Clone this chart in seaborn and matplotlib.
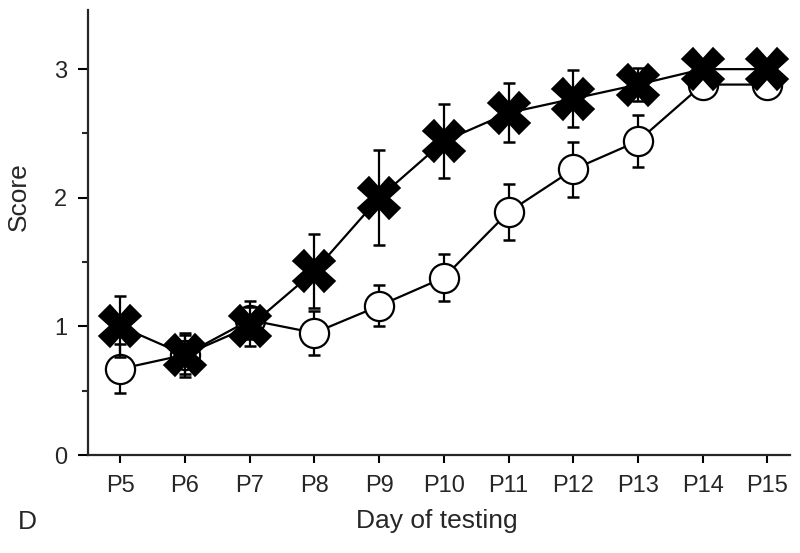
############################# Data Set-up ################################

# Imports
import numpy as np
import pandas as pd
import matplotlib
matplotlib.use("Agg")
import matplotlib.pyplot as plt
import seaborn as sns
from matplotlib.ticker import MultipleLocator

# Day labels
days = ["P5", "P6", "P7", "P8", "P9", "P10", "P11", "P12", "P13", "P14", "P15"]

# Open circle group (mean and SEM)
circle_mean = [0.67, 0.78, 1.05, 0.95, 1.16, 1.38, 1.89, 2.22, 2.44, 2.88, 2.88]
circle_sem = [0.19, 0.17, 0.15, 0.17, 0.16, 0.18, 0.22, 0.21, 0.20, 0.10, 0.10]

# Cross group (mean and SEM)
cross_mean = [1.00, 0.78, 1.00, 1.43, 2.00, 2.44, 2.66, 2.77, 2.88, 3.00, 3.00]
cross_sem = [0.24, 0.15, 0.15, 0.29, 0.37, 0.29, 0.23, 0.22, 0.13, 0.0, 0.0]

# Build long table for seaborn
df = pd.DataFrame({
    "day": days * 2,
    "pos": list(range(len(days))) * 2,
    "score": circle_mean + cross_mean,
    "sem": circle_sem + cross_sem,
    "group": ["circle"] * len(days) + ["cross"] * len(days),
})

############################# Plotting ################################

sns.set_style("ticks")
plt.rcParams["font.family"] = ["Liberation Sans", "DejaVu Sans"]

fig = plt.figure(figsize = (8, 5.53), dpi = 100)
ax = fig.add_axes([0.11, 0.177, 0.8775, 0.805])

circ = df[df["group"] == "circle"]
cross = df[df["group"] == "cross"]

# Error bars first
ax.errorbar(circ["pos"], circ["score"], yerr = circ["sem"], fmt = "none",
            ecolor = "black", elinewidth = 1.6, capsize = 4, capthick = 1.8, zorder = 2)
ax.errorbar(cross["pos"], cross["score"], yerr = cross["sem"], fmt = "none",
            ecolor = "black", elinewidth = 1.6, capsize = 4, capthick = 1.8, zorder = 4)

# Open circles
sns.lineplot(data = circ, x = "pos", y = "score", color = "black", linewidth = 1.6,
             marker = "o", markersize = 21, markerfacecolor = "white",
             markeredgecolor = "black", markeredgewidth = 1.6, ax = ax, zorder = 3)

# Crosses
sns.lineplot(data = cross, x = "pos", y = "score", color = "black", linewidth = 1.6,
             marker = "X", markersize = 30, markerfacecolor = "black",
             markeredgecolor = "black", markeredgewidth = 1.2, ax = ax, zorder = 5)

# Axes limits and ticks
ax.set_xlim(-0.5, 10.35)
ax.set_ylim(0, 3.46)
ax.set_xticks(range(len(days)))
ax.set_xticklabels(days)
ax.yaxis.set_major_locator(MultipleLocator(1))
ax.yaxis.set_minor_locator(MultipleLocator(0.5))
ax.tick_params(axis = "both", which = "major", labelsize = 17, width = 1.5, color = "black")
ax.tick_params(axis = "y", which = "major", length = 7, pad = 8)
ax.tick_params(axis = "y", which = "minor", width = 1.5, length = 4)
ax.tick_params(axis = "x", which = "major", length = 6, pad = 8)

# Axis titles
ax.set_xlabel("Day of testing", fontsize = 19)
ax.set_ylabel("Score", fontsize = 19)
ax.xaxis.set_label_coords(0.497, -0.12)
ax.yaxis.set_label_coords(-0.082, 0.58)

sns.despine(ax = ax, top = True, right = True)
ax.spines["left"].set_linewidth(1.6)
ax.spines["bottom"].set_linewidth(1.6)

# Panel letter
fig.text(0.022, 0.043, "D", fontsize = 19)

plt.savefig("out.png", dpi = 100)
plt.close()
